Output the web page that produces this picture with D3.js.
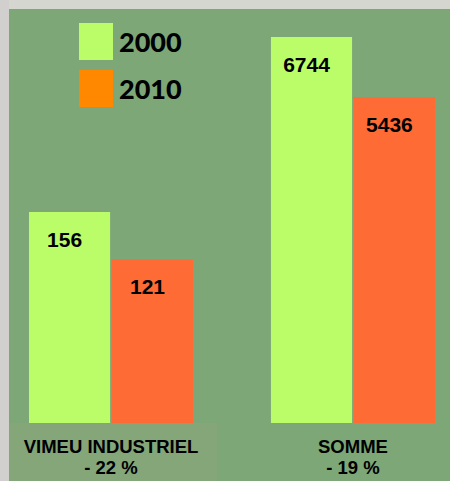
<!DOCTYPE html>
<html>
<head>
<meta charset="utf-8">
<script src="https://cdn.jsdelivr.net/npm/d3@7"></script>
<style>
html,body{margin:0;padding:0;background:#d3d5ce;}
svg{display:block;}
</style>
</head>
<body>
<svg id="chart" width="450" height="481"></svg>
<script>
const categories = ["VIMEU INDUSTRIEL", "SOMME"];
const changeLabels = ["- 22 %", "- 19 %"];
const years = ["2000", "2010"];
const values2000 = [156, 6744];
const values2010 = [121, 5436];
const axisMin = [0, -1670];

const barColors = {"2000": "#bbfd68", "2010": "#ff6b35"};
const legendColors = {"2000": "#bbfd68", "2010": "#ff8800"};

const W = 450, H = 481;
const svg = d3.select("#chart");

// backgrounds
svg.append("rect").attr("x",0).attr("y",0).attr("width",W).attr("height",H).attr("fill","#d4d6cf");
svg.append("rect").attr("x",0).attr("y",0).attr("width",9).attr("height",H).attr("fill","#d2cfcf");
svg.append("rect").attr("x",9).attr("y",9).attr("width",W-9).attr("height",H-9).attr("fill","#7ea777");
svg.append("rect").attr("x",9).attr("y",423).attr("width",208).attr("height",58).attr("fill","#87a57b").attr("opacity",0.7);

const x0 = d3.scaleBand().domain(categories).range([29, 435]).paddingInner(0.322).paddingOuter(0);
const x1 = d3.scaleBand().domain(years).range([0, x0.bandwidth()]).paddingInner(0.022);

const rows = categories.map((c,i)=>({cat:c, idx:i, vals:[{year:"2000", v:values2000[i]},{year:"2010", v:values2010[i]}]}));

const yScales = categories.map((c,i)=>d3.scaleLinear()
  .domain([axisMin[i], d3.max([values2000[i], values2010[i]])])
  .range([423, i===0 ? 212 : 37]));

const g = svg.selectAll("g.grp").data(rows).join("g")
  .attr("class","grp")
  .attr("transform", d=>`translate(${x0(d.cat)},0)`);

g.each(function(d){
  const y = yScales[d.idx];
  const gg = d3.select(this);
  gg.selectAll("rect.bar").data(d.vals).join("rect")
    .attr("class","bar")
    .attr("x", v=>x1(v.year))
    .attr("y", v=>y(v.v))
    .attr("width", x1.bandwidth())
    .attr("height", v=>y(axisMin[d.idx]) - y(v.v))
    .attr("fill", v=>barColors[v.year]);
  gg.selectAll("text.val").data(d.vals).join("text")
    .attr("class","val")
    .attr("x", v=>x1(v.year) + x1.bandwidth()/2 - 5)
    .attr("y", v=>y(v.v) + 35)
    .attr("text-anchor","middle")
    .attr("font-family","Liberation Sans, Arial, sans-serif")
    .attr("font-weight","bold")
    .attr("font-size","21px")
    .attr("fill","#000")
    .text(v=>v.v);
  const t = gg.append("text")
    .attr("x", x0.bandwidth()/2)
    .attr("y", 453)
    .attr("text-anchor","middle")
    .attr("font-family","Liberation Sans, Arial, sans-serif")
    .attr("font-weight","bold")
    .attr("font-size","18.5px")
    .attr("fill","#000");
  t.append("tspan").attr("x", x0.bandwidth()/2).attr("y",453).text(d.cat);
  t.append("tspan").attr("x", x0.bandwidth()/2).attr("y",474).text(changeLabels[d.idx]);
});

// legend
const lg = svg.append("g").selectAll("g").data(years).join("g")
  .attr("transform",(d,i)=>`translate(79,${23 + i*47})`);
lg.append("rect").attr("width",34).attr("height",37).attr("fill",d=>legendColors[d]);
lg.append("text").attr("x",40).attr("y",29)
  .attr("font-family","Lato, sans-serif").attr("font-weight","900").attr("font-size","27px")
  .attr("fill","#000").text(d=>d);
</script>
</body>
</html>
